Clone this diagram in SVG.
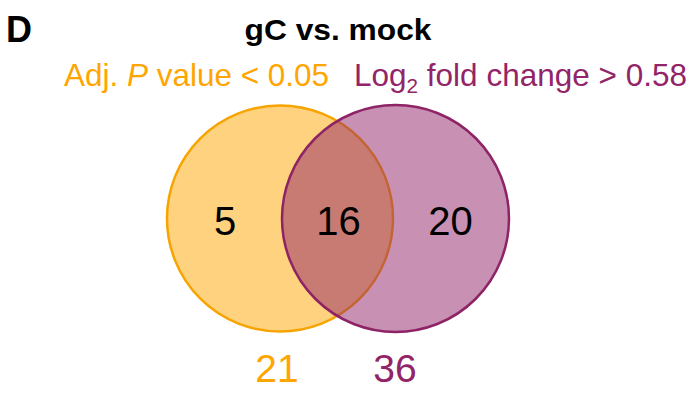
<svg xmlns="http://www.w3.org/2000/svg" width="694" height="393" viewBox="0 0 694 393">
<style>
text{font-family:"Liberation Sans",Arial,sans-serif}
.b{font-weight:bold;fill:#000}
.lbl{font-size:32px}
.num{font-size:40px;fill:#000;text-anchor:middle}
.tot{font-size:39px;text-anchor:middle}
.or{fill:#FFA500}
.pu{fill:#922468}
</style>
<rect width="694" height="393" fill="#fff"/>
<text class="b" x="6" y="42" font-size="36">D</text>
<text class="b" x="338" y="40" font-size="30" text-anchor="middle" textLength="187" lengthAdjust="spacingAndGlyphs">gC vs. mock</text>
<text class="lbl or" x="64" y="86" textLength="265" lengthAdjust="spacingAndGlyphs">Adj. <tspan font-style="italic">P</tspan> value &lt; 0.05</text>
<text class="lbl pu" x="354" y="86" textLength="333" lengthAdjust="spacingAndGlyphs">Log<tspan font-size="21" dy="7">2</tspan><tspan dy="-7"> fold change &gt; 0.58</tspan></text>
<g id="left-set">
<circle cx="280" cy="218.5" r="113" fill="#FFA500" fill-opacity="0.5" stroke="#F7A400" stroke-width="2.5"/>
</g>
<g id="right-set">
<circle cx="395.5" cy="218.5" r="113.5" fill="#922468" fill-opacity="0.5" stroke="#8E2466" stroke-width="2.5"/>
</g>
<g id="connectors"/>
<g id="counts">
<text class="num" x="225" y="235">5</text>
<text class="num" x="338.5" y="235">16</text>
<text class="num" x="450.5" y="235">20</text>
<text class="tot or" x="277" y="382">21</text>
<text class="tot pu" x="395" y="382">36</text>
</g>
</svg>
